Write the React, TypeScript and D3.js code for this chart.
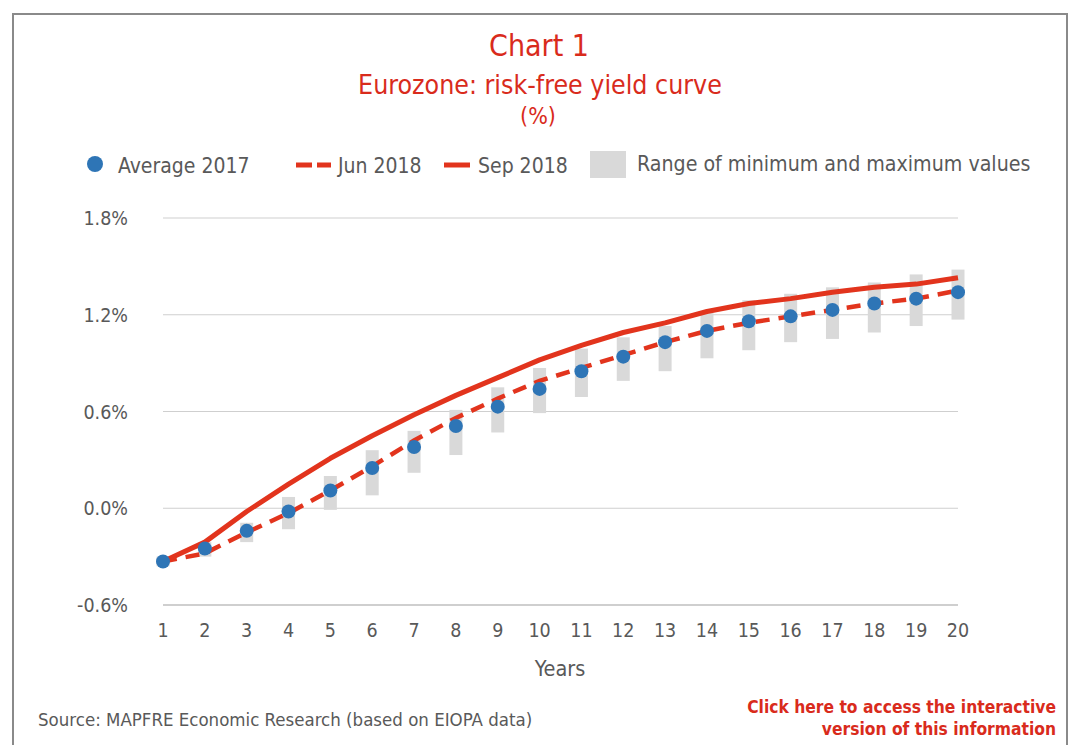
import React from "react";
import * as d3 from "d3";

const years = [1, 2, 3, 4, 5, 6, 7, 8, 9, 10, 11, 12, 13, 14, 15, 16, 17, 18, 19, 20];
const avg2017 = [-0.33, -0.25, -0.14, -0.02, 0.11, 0.25, 0.38, 0.51, 0.63, 0.74, 0.85, 0.94, 1.03, 1.10, 1.16, 1.19, 1.23, 1.27, 1.30, 1.34];
const jun2018 = [-0.33, -0.28, -0.15, -0.03, 0.11, 0.26, 0.42, 0.56, 0.68, 0.79, 0.87, 0.95, 1.03, 1.10, 1.15, 1.19, 1.23, 1.27, 1.30, 1.35];
const sep2018 = [-0.33, -0.21, -0.02, 0.15, 0.31, 0.45, 0.58, 0.70, 0.81, 0.92, 1.01, 1.09, 1.15, 1.22, 1.27, 1.30, 1.34, 1.37, 1.39, 1.43];
const rangeMin = [-0.36, -0.30, -0.21, -0.13, -0.01, 0.08, 0.22, 0.33, 0.47, 0.59, 0.69, 0.79, 0.85, 0.93, 0.98, 1.03, 1.05, 1.09, 1.13, 1.17];
const rangeMax = [-0.30, -0.21, -0.09, 0.07, 0.20, 0.36, 0.48, 0.61, 0.75, 0.87, 0.99, 1.06, 1.13, 1.21, 1.29, 1.33, 1.37, 1.40, 1.45, 1.48];
const yTicks = [-0.6, 0.0, 0.6, 1.2, 1.8];

const FONT = "'DejaVu Sans Condensed', 'Liberation Sans Narrow', Roboto, sans-serif";
const RED = "#e2341d";
const TITLE_RED = "#d92b1c";
const BLUE = "#2e75b6";
const GREY_TEXT = "#595959";

export default function App() {
  const W = 1073;
  const H = 745;
  const x = d3.scaleLinear().domain([1, 20]).range([163, 958]);
  const y = d3.scaleLinear().domain([-0.6, 1.8]).range([605, 218]);

  const line = d3
    .line<number>()
    .x((_, i) => x(years[i]))
    .y((d) => y(d))
    .curve(d3.curveLinear);

  const barW = 13;
  const fmt = (t: number) => d3.format(".1f")(t).replace("\u2212", "-") + "%";

  return (
    <svg
      width={W}
      height={H}
      style={{ position: "absolute", left: 0, top: 0, display: "block", background: "#fff" }}
      fontFamily={FONT}
    >
      <rect x={0} y={0} width={W} height={H} fill="#fff" />
      <rect x={13} y={14} width={1054} height={760} fill="none" stroke="#8a8a8a" strokeWidth={2} />

      {/* titles */}
      <text x={539} y={56} textAnchor="middle" fontSize={30} fill={TITLE_RED}>Chart 1</text>
      <text x={540} y={94} textAnchor="middle" fontSize={26.5} fill={TITLE_RED}>Eurozone: risk-free yield curve</text>
      <text x={538} y={124} textAnchor="middle" fontSize={23} fill={TITLE_RED}>(%)</text>

      {/* legend */}
      <circle cx={95} cy={164} r={8} fill={BLUE} />
      <text x={118} y={173} fontSize={21} fill={GREY_TEXT}>Average 2017</text>
      <line x1={296} x2={331} y1={165} y2={165} stroke={RED} strokeWidth={5} strokeDasharray="16,5" />
      <text x={338} y={173} fontSize={21} fill={GREY_TEXT}>Jun 2018</text>
      <line x1={444} x2={470} y1={165} y2={165} stroke={RED} strokeWidth={5} />
      <text x={478} y={173} fontSize={21} fill={GREY_TEXT}>Sep 2018</text>
      <rect x={590} y={151} width={36} height={27} fill="#d9d9d9" />
      <text x={637} y={171} fontSize={21.2} fill={GREY_TEXT}>Range of minimum and maximum values</text>

      {/* gridlines */}
      {yTicks.map((t) => (
        <g key={t}>
          <line x1={x(1)} x2={x(20)} y1={y(t)} y2={y(t)} stroke={t === -0.6 ? "#bfbfbf" : "#cfcfcf"} strokeWidth={t === -0.6 ? 1.5 : 1} />
          <text x={128} y={y(t) + 7} textAnchor="end" fontSize={19.5} fill={GREY_TEXT}>
            {fmt(t)}
          </text>
        </g>
      ))}

      {/* range bars */}
      {years.map((yr, i) => (
        <rect
          key={yr}
          x={x(yr) - barW / 2}
          y={y(rangeMax[i])}
          width={barW}
          height={y(rangeMin[i]) - y(rangeMax[i])}
          fill="#d9d9d9"
        />
      ))}

      {/* lines */}
      <path d={line(sep2018) || ""} fill="none" stroke={RED} strokeWidth={5} strokeLinejoin="round" />
      <path d={line(jun2018) || ""} fill="none" stroke={RED} strokeWidth={4.5} strokeDasharray="14,9" />

      {/* dots */}
      {years.map((yr, i) => (
        <circle key={yr} cx={x(yr)} cy={y(avg2017[i])} r={7} fill={BLUE} />
      ))}

      {/* x labels */}
      {years.map((yr) => (
        <text key={yr} x={x(yr)} y={637} textAnchor="middle" fontSize={19.5} fill={GREY_TEXT}>
          {yr}
        </text>
      ))}
      <text x={560} y={676} textAnchor="middle" fontSize={21.5} fill={GREY_TEXT}>Years</text>

      {/* footer */}
      <text x={38} y={726} fontSize={18.5} fill={GREY_TEXT}>Source: MAPFRE Economic Research (based on EIOPA data)</text>
      <text x={1056} y={713} textAnchor="end" fontSize={17.3} fontWeight={700} fill={TITLE_RED}>Click here to access the interactive</text>
      <text x={1056} y={735} textAnchor="end" fontSize={17.3} fontWeight={700} fill={TITLE_RED}>version of this information</text>
    </svg>
  );
}
